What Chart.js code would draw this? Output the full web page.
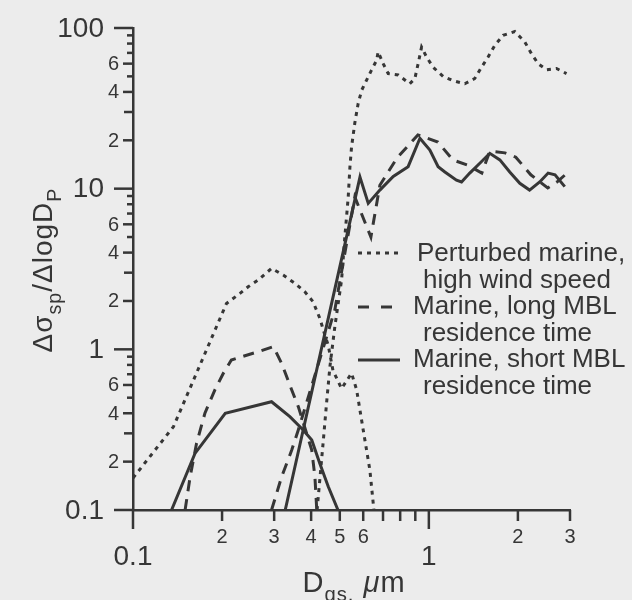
<!DOCTYPE html>
<html>
<head>
<meta charset="utf-8">
<script src="https://cdn.jsdelivr.net/npm/chart.js@4.4.1/dist/chart.umd.min.js"></script>
<style>
  html, body { margin: 0; padding: 0; background: #ececec; }
  #wrap { width: 632px; height: 600px; position: relative; }
</style>
</head>
<body>
<div id="wrap"><canvas id="sizeChart"></canvas></div>
<script>
// Perturbed marine, high wind speed (dotted) - fine and coarse branches
const perturbedFineX = [0.1, 0.137, 0.207, 0.230, 0.245, 0.265, 0.294, 0.322, 0.353, 0.381, 0.406, 0.428, 0.445, 0.457, 0.474, 0.507, 0.548, 0.570, 0.600, 0.632, 0.652];
const perturbedFineY = [0.158, 0.33, 1.93, 2.23, 2.45, 2.70, 3.19, 2.90, 2.57, 2.28, 1.98, 1.56, 1.23, 1.06, 0.74, 0.57, 0.71, 0.56, 0.315, 0.177, 0.1];
const perturbedCoarseX = [0.419, 0.439, 0.451, 0.463, 0.481, 0.507, 0.520, 0.534, 0.541, 0.548, 0.562, 0.577, 0.593, 0.616, 0.640, 0.666, 0.674, 0.701, 0.729, 0.788, 0.862, 0.897, 0.920, 0.945, 0.982, 1.034, 1.117, 1.208, 1.323, 1.430, 1.507, 1.586, 1.671, 1.782, 1.952, 2.11, 2.22, 2.34, 2.50, 2.70, 2.92];
const perturbedCoarseY = [0.1, 0.26, 0.46, 0.78, 1.38, 2.7, 5.0, 8.9, 13.6, 18.2, 25.6, 34, 41, 47.4, 54.7, 63, 71, 60, 52, 51, 45, 48.5, 60, 76, 66, 57, 50, 47, 45, 48.5, 57, 66, 78, 90, 95, 82, 69.5, 60, 55, 56, 52];

// Marine, long MBL residence time (dashed)
const longFineX = [0.150, 0.156, 0.164, 0.175, 0.189, 0.202, 0.215, 0.233, 0.265, 0.298, 0.318, 0.344, 0.362, 0.402, 0.412, 0.418];
const longFineY = [0.1, 0.161, 0.26, 0.40, 0.558, 0.709, 0.858, 0.90, 0.966, 1.04, 0.818, 0.558, 0.44, 0.236, 0.161, 0.1];
const longCoarseX = [0.294, 0.318, 0.344, 0.362, 0.481, 0.562, 0.637, 0.683, 0.780, 0.918, 1.073, 1.205, 1.354, 1.510, 1.607, 1.807, 1.968, 2.211, 2.523, 2.728, 2.903];
const longCoarseY = [0.1, 0.161, 0.236, 0.315, 1.76, 8.87, 5.0, 10.5, 15.5, 21.6, 19.5, 15.1, 14.0, 12.5, 17.1, 16.7, 15.7, 12.2, 10.1, 11.1, 12.3];

// Marine, short MBL residence time (solid)
const shortFineX = [0.135, 0.162, 0.205, 0.294, 0.339, 0.376, 0.402, 0.428, 0.457, 0.493];
const shortFineY = [0.1, 0.225, 0.40, 0.472, 0.381, 0.315, 0.273, 0.195, 0.14, 0.1];
const shortCoarseX = [0.327, 0.585, 0.624, 0.683, 0.758, 0.851, 0.933, 1.008, 1.075, 1.133, 1.240, 1.290, 1.375, 1.487, 1.607, 1.738, 1.877, 2.03, 2.19, 2.37, 2.53, 2.67, 2.88];
const shortCoarseY = [0.1, 11.8, 8.1, 9.8, 11.9, 13.7, 20.6, 17.4, 13.7, 12.7, 11.3, 11.0, 12.5, 14.4, 16.6, 15.1, 12.7, 10.8, 9.8, 11.0, 12.5, 12.2, 10.3];

// Axis ticks and labels
const xTickValues = [0.1, 0.2, 0.3, 0.4, 0.5, 0.6, 0.7, 0.8, 0.9, 1, 2, 3];
const xTickLabels = ['0.1', '2', '3', '4', '5', '6', '', '', '', '1', '2', '3'];
const yTickValues = [0.1, 0.2, 0.3, 0.4, 0.5, 0.6, 0.7, 0.8, 0.9, 1, 2, 3, 4, 5, 6, 7, 8, 9, 10, 20, 30, 40, 50, 60, 70, 80, 90, 100];
const yTickLabels = ['0.1', '2', '', '4', '', '6', '', '', '', '1', '2', '', '4', '', '6', '', '', '', '10', '2', '', '4', '', '6', '', '', '', '100'];

const legendLabels = [
    ['Perturbed marine,', 'high wind speed'],
    ['Marine, long MBL', 'residence time'],
    ['Marine, short MBL', 'residence time']
];

const INK = '#363636';
const FONT = '"Liberation Sans", Arial, Helvetica, sans-serif';
const DOTTED = [4, 5];
const DASHED = [11, 8];
const SOLID = [];

function pts(xs, ys) {
    return xs.map((x, i) => ({ x: x, y: ys[i] }));
}

function series(xs, ys, dash) {
    return {
        data: pts(xs, ys),
        borderColor: INK,
        borderWidth: 3,
        borderDash: dash,
        pointRadius: 0,
        tension: 0,
        fill: false
    };
}

function isDecade(v) {
    const l = Math.log10(v);
    return Math.abs(l - Math.round(l)) < 1e-9;
}

// text made of parts [text, kind], kind: '' | 'sub' | 'it'
function richWidth(ctx, parts, size) {
    let w = 0;
    parts.forEach(([t, kind]) => {
        const fs = kind === 'sub' ? size * 0.7 : size;
        ctx.font = (kind === 'it' ? 'italic ' : '') + fs + 'px ' + FONT;
        w += ctx.measureText(t).width;
    });
    return w;
}

function drawRich(ctx, parts, x, y, size) {
    let cx = x;
    parts.forEach(([t, kind]) => {
        const fs = kind === 'sub' ? size * 0.7 : size;
        ctx.font = (kind === 'it' ? 'italic ' : '') + fs + 'px ' + FONT;
        const dy = kind === 'sub' ? size * 0.32 : 0;
        ctx.fillText(t, cx, y + dy);
        cx += ctx.measureText(t).width;
    });
}

const background = {
    id: 'background',
    beforeDraw(chart) {
        const { ctx, width, height } = chart;
        ctx.save();
        ctx.fillStyle = '#ececec';
        ctx.fillRect(0, 0, width, height);
        ctx.restore();
    }
};

// Tick marks, tick labels and axis titles
const axisDecor = {
    id: 'axisDecor',
    afterDraw(chart) {
        const { ctx, chartArea, scales: { x, y } } = chart;
        ctx.save();
        ctx.strokeStyle = INK;
        ctx.fillStyle = INK;
        ctx.lineWidth = 2.5;
        ctx.setLineDash([]);

        // y axis
        yTickValues.forEach((v, i) => {
            const py = y.getPixelForValue(v);
            const label = yTickLabels[i];
            const major = isDecade(v);
            const sig = Math.round(v / Math.pow(10, Math.floor(Math.log10(v) + 1e-9)));
            const len = major ? 19 : (label ? 10 : (sig === 3 ? 9 : 6));
            ctx.beginPath();
            ctx.moveTo(chartArea.left, py);
            ctx.lineTo(chartArea.left - len, py);
            ctx.stroke();
            if (label) {
                ctx.textAlign = 'right';
                ctx.textBaseline = 'middle';
                ctx.font = (major ? 28 : 20) + 'px ' + FONT;
                ctx.fillText(label, major ? 104 : 119, py + 1);
            }
        });

        // x axis
        xTickValues.forEach((v, i) => {
            const px = x.getPixelForValue(v);
            const label = xTickLabels[i];
            const major = isDecade(v);
            const len = major ? 19 : 11;
            ctx.beginPath();
            ctx.moveTo(px, chartArea.bottom);
            ctx.lineTo(px, chartArea.bottom + len);
            ctx.stroke();
            if (label) {
                ctx.textAlign = 'center';
                ctx.textBaseline = 'middle';
                ctx.font = (major ? 28 : 20) + 'px ' + FONT;
                ctx.fillText(label, px, major ? 557 : 537);
            }
        });

        // axis titles
        ctx.textAlign = 'left';
        ctx.textBaseline = 'alphabetic';
        ctx.letterSpacing = '1px';
        const xTitle = [['D', ''], ['gs,', 'sub'], [' ', ''], ['\u03bc', 'it'], ['m', '']];
        const xw = richWidth(ctx, xTitle, 29);
        drawRich(ctx, xTitle, 354 - xw / 2, 592, 29);

        const yTitle = [['\u0394\u03c3', ''], ['sp', 'sub'], ['/\u0394logD', ''], ['P', 'sub']];
        const yw = richWidth(ctx, yTitle, 28);
        ctx.translate(52, 270);
        ctx.rotate(-Math.PI / 2);
        drawRich(ctx, yTitle, -yw / 2, 0, 28);
        ctx.restore();
    }
};

// Legend with two-line labels
const legendBox = {
    id: 'legendBox',
    afterDraw(chart) {
        const ctx = chart.ctx;
        const dashes = [DOTTED, [11, 12], SOLID];
        const sampleY = [253, 307, 360];
        const sampleEnd = [398, 392, 400];
        const firstX = [417, 413, 413];
        const baselines = [[261, 288], [314, 341], [367, 394]];
        ctx.save();
        ctx.strokeStyle = INK;
        ctx.fillStyle = INK;
        ctx.lineWidth = 3;
        legendLabels.forEach((lines, i) => {
            ctx.setLineDash(dashes[i]);
            ctx.beginPath();
            ctx.moveTo(358, sampleY[i]);
            ctx.lineTo(sampleEnd[i], sampleY[i]);
            ctx.stroke();
            ctx.font = '26px ' + FONT;
            ctx.textAlign = 'left';
            ctx.textBaseline = 'alphabetic';
            ctx.fillText(lines[0], firstX[i], baselines[i][0]);
            ctx.fillText(lines[1], 423, baselines[i][1]);
        });
        ctx.restore();
    }
};

const ctx = document.getElementById('sizeChart').getContext('2d');
new Chart(ctx, {
    type: 'line',
    data: {
        datasets: [
            series(perturbedFineX, perturbedFineY, DOTTED),
            series(perturbedCoarseX, perturbedCoarseY, DOTTED),
            series(longFineX, longFineY, DASHED),
            series(longCoarseX, longCoarseY, DASHED),
            series(shortFineX, shortFineY, SOLID),
            series(shortCoarseX, shortCoarseY, SOLID)
        ]
    },
    options: {
        responsive: true,
        maintainAspectRatio: false,
        animation: false,
        layout: { padding: { top: 28, right: 62, left: 0, bottom: 0 } },
        plugins: {
            legend: { display: false },
            tooltip: { enabled: false }
        },
        scales: {
            x: {
                type: 'logarithmic',
                min: 0.1,
                max: 3,
                grid: { display: false },
                ticks: { display: false },
                border: { color: INK, width: 2.5 },
                afterFit: s => { s.height = 90; }
            },
            y: {
                type: 'logarithmic',
                min: 0.1,
                max: 100,
                grid: { display: false },
                ticks: { display: false },
                border: { color: INK, width: 2.5 },
                afterFit: s => { s.width = 133; }
            }
        }
    },
    plugins: [background, axisDecor, legendBox]
});
</script>
</body>
</html>
